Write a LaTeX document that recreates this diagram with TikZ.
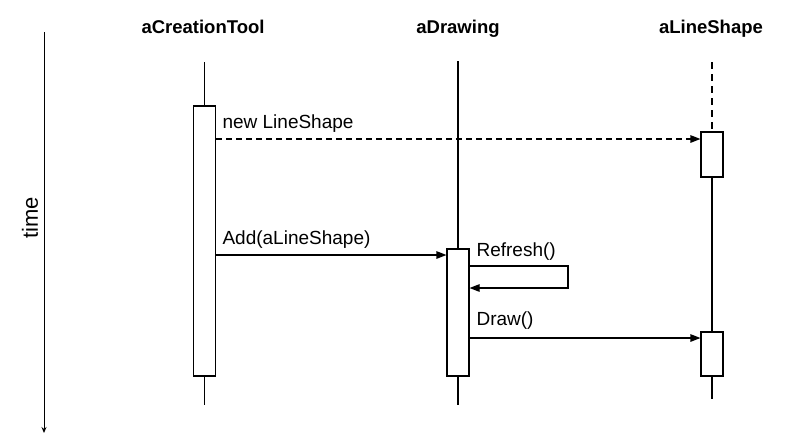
\documentclass[tikz,border=0pt]{standalone}
\usepackage{fontspec}
\setmainfont{Liberation Sans}
\usetikzlibrary{arrows.meta}
\begin{document}
\begin{tikzpicture}[x=1pt,y=-1pt,
  line width=1.1pt,
  head/.style={font=\bfseries\fontsize{18.5}{20}\selectfont, anchor=base, inner sep=0pt},
  msg/.style={font=\fontsize{19}{21}\selectfont, anchor=base west, inner sep=0pt},
  act/.style={draw, fill=white, minimum width=22pt, inner sep=0pt, line width=1.1pt},
  call/.style={-{Triangle[length=10pt,width=7.5pt]}},
  ret/.style={dashed, dash pattern=on 6pt off 4pt, -{Triangle[length=10pt,width=7.5pt]}}
]
\useasboundingbox (0,0) rectangle (801,440);

% time axis
\coordinate (t0) at (44,32);
\coordinate (t1) at (44,433);
\draw[line width=0.9pt, -{Stealth[length=6pt,width=5pt]}] (t0) -- (t1);
\node[font=\fontsize{22}{24}\selectfont, rotate=90, inner sep=0pt] (time) at (30,218) {time};

% headers
\node[head] (hct) at (203,33) {aCreationTool};
\node[head] (hdr) at (458,33) {aDrawing};
\node[head] (hls) at (711,33) {aLineShape};

% activation boxes
\node[act, minimum height=270pt] (ctbox) at (204.5,241) {};
\node[act, minimum height=127pt] (drbox) at (458,312.5) {};
\node[act, minimum height=45pt] (ls1) at (712,154.5) {};
\node[act, minimum height=44pt] (ls2) at (712,354) {};

% lifelines
\coordinate (ct0) at (204.5,62);
\coordinate (ct1) at (204.5,405);
\coordinate (dr0) at (458,61);
\coordinate (dr1) at (458,405);
\coordinate (ls0) at (712,62);
\coordinate (lsE) at (712,399);
\draw (ct0) -- (ctbox.north);
\draw (ctbox.south) -- (ct1);
\draw (dr0) -- (drbox.north);
\draw (drbox.south) -- (dr1);
\draw[dashed, dash pattern=on 7pt off 5pt] (ls0) -- (ls1.north);
\draw (ls1.south) -- (ls2.north);
\draw (ls2.south) -- (lsE);

% messages
\coordinate (y1) at (0,139);
\coordinate (y2) at (0,255);
\coordinate (y3) at (0,266);
\coordinate (y4) at (0,288);
\coordinate (y5) at (0,338);
\coordinate (rx) at (568,0);

\draw[ret] (ctbox.east |- y1) -- (ls1.west |- y1);
\node[msg] (m1) at (222,128) {new LineShape};

\draw[call] (ctbox.east |- y2) -- (drbox.west |- y2);
\node[msg] (m2) at (222,244) {Add(aLineShape)};

\draw[call] (drbox.east |- y3) -- (rx |- y3) -- (rx |- y4) -- (drbox.east |- y4);
\node[msg] (m3) at (476,256) {Refresh()};

\draw[call] (drbox.east |- y5) -- (ls2.west |- y5);
\node[msg] (m4) at (476,325) {Draw()};
\end{tikzpicture}
\end{document}
